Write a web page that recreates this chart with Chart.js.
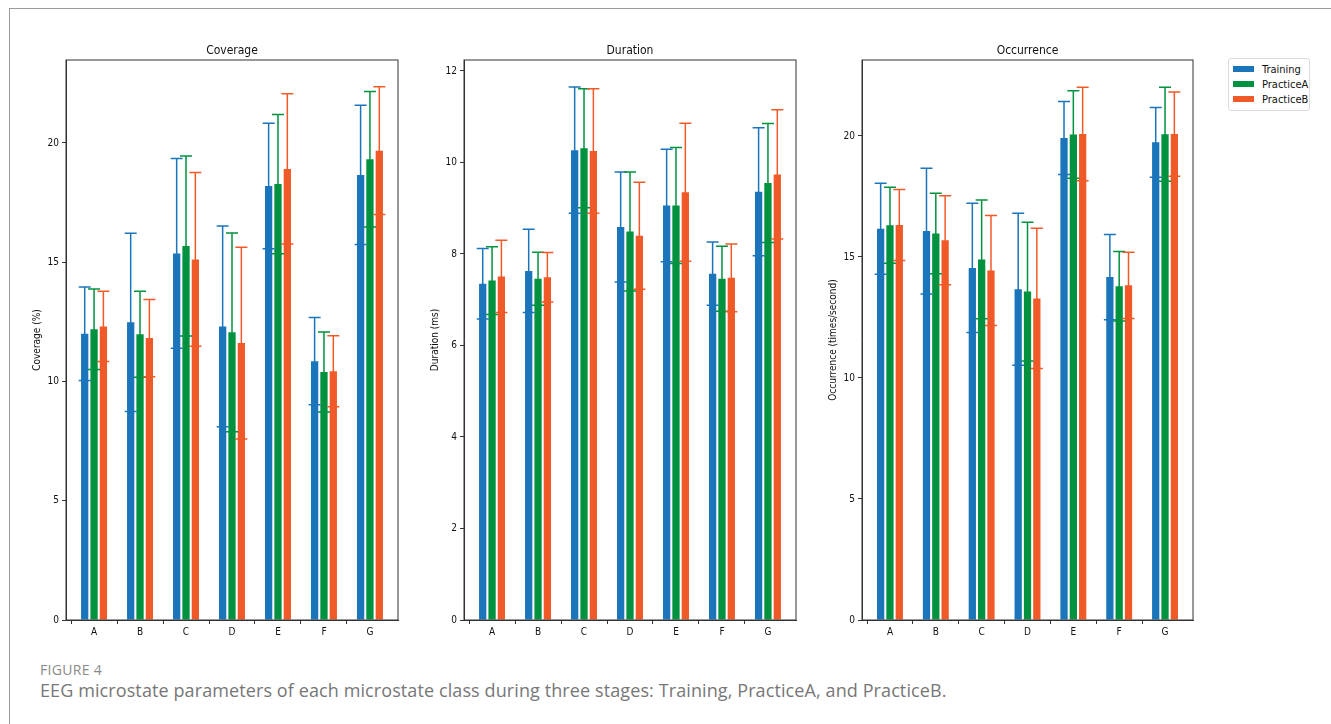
<!DOCTYPE html>
<html>
<head>
<meta charset="utf-8">
<script src="https://cdn.jsdelivr.net/npm/chart.js@4"></script>
<style>
  body{margin:0;background:#fff;width:1331px;height:724px;overflow:hidden;position:relative;font-family:"DejaVu Sans",sans-serif;}
  #frame{position:absolute;left:9px;top:8px;width:1340px;height:740px;border-left:1.5px solid #9a9a9a;border-top:1.5px solid #9a9a9a;}
  .pan{position:absolute;top:30px;}
  #legenda{position:absolute;left:1228px;top:58px;width:80px;height:51px;border:1px solid #dcdcdc;border-radius:3px;background:#fff;}
  .item{position:absolute;left:4px;height:15px;font-size:11px;line-height:15px;color:#111;font-family:"DejaVu Sans Condensed","DejaVu Sans",sans-serif;}
  .item span{display:inline-block;width:21px;height:6px;margin-right:8px;vertical-align:middle;position:relative;top:-1px;}
  #fig{position:absolute;left:40px;top:660px;font-family:"Open Sans",sans-serif;font-size:14px;color:#8a8a8a;letter-spacing:0.3px;}
  #cap{position:absolute;left:40px;top:678px;font-family:"Open Sans",sans-serif;font-size:18px;color:#777;letter-spacing:0.1px;}
</style>
</head>
<body>
<div id="frame"></div>
<canvas id="grafico1" class="pan"></canvas>
<canvas id="grafico2" class="pan"></canvas>
<canvas id="grafico3" class="pan"></canvas>
<div id="legenda"></div>
<div id="fig">FIGURE 4</div>
<div id="cap">EEG microstate parameters of each microstate class during three stages: Training, PracticeA, and PracticeB.</div>
<script>
// microstate classes
var classes=["A","B","C","D","E","F","G"];
var stages=["Training","PracticeA","PracticeB"];
var cores=["#1b75bb","#00923f","#f05a28"];

// Coverage (%) - mean / sd
var cov_training=[12.0,12.48,15.37,12.31,18.2,10.85,18.66];
var cov_training_sd=[1.96,3.74,3.98,4.21,2.63,1.83,2.92];
var cov_practiceA=[12.19,11.98,15.68,12.06,18.28,10.4,19.32];
var cov_practiceA_sd=[1.69,1.8,3.77,4.17,2.92,1.68,2.84];
var cov_practiceB=[12.31,11.82,15.12,11.61,18.91,10.43,19.68];
var cov_practiceB_sd=[1.47,1.62,3.64,4.02,3.15,1.49,2.68];

// Duration (ms)
var dur_training=[7.35,7.63,10.27,8.59,9.06,7.57,9.36];
var dur_training_sd=[0.77,0.91,1.38,1.2,1.23,0.69,1.4];
var dur_practiceA=[7.42,7.46,10.31,8.49,9.06,7.46,9.55];
var dur_practiceA_sd=[0.74,0.58,1.3,1.3,1.27,0.71,1.3];
var dur_practiceB=[7.51,7.49,10.25,8.4,9.35,7.48,9.74];
var dur_practiceB_sd=[0.79,0.54,1.36,1.17,1.51,0.74,1.41];

// Occurrence (times/second)
var occ_training=[16.17,16.07,14.55,13.67,19.92,14.17,19.74];
var occ_training_sd=[1.88,2.6,2.67,3.14,1.51,1.76,1.44];
var occ_practiceA=[16.31,15.97,14.9,13.57,20.06,13.79,20.07];
var occ_practiceA_sd=[1.57,1.66,2.45,2.87,1.81,1.44,1.94];
var occ_practiceB=[16.32,15.69,14.44,13.29,20.08,13.83,20.08];
var occ_practiceB_sd=[1.47,1.84,2.27,2.9,1.93,1.37,1.74];

// y ticks
var cov_ticks=[0,5,10,15,20];
var dur_ticks=[0,2,4,6,8,10,12];
var occ_ticks=[0,5,10,15,20];

var fonte='"DejaVu Sans Condensed","DejaVu Sans",sans-serif';
Chart.defaults.font.family=fonte;
Chart.defaults.color="#111";
var eixoW=35;

// error bars + box + title drawn on top of the bars
var extras={
    id:"extras",
    afterDatasetsDraw(chart){
        var ctx=chart.ctx;
        var y=chart.scales.y;
        ctx.save();
        chart.data.datasets.forEach(function(ds,d){
            var meta=chart.getDatasetMeta(d);
            meta.data.forEach(function(bar,i){
                var m=ds.data[i].y, s=ds.erro[i];
                var top=y.getPixelForValue(m+s), bot=y.getPixelForValue(m-s);
                ctx.strokeStyle=ds.backgroundColor;
                ctx.lineWidth=1.5;
                ctx.beginPath();
                ctx.moveTo(bar.x,bot);ctx.lineTo(bar.x,top);
                ctx.moveTo(bar.x-6,top);ctx.lineTo(bar.x+6,top);
                ctx.moveTo(bar.x-6,bot);ctx.lineTo(bar.x+6,bot);
                ctx.stroke();
            });
        });
        var a=chart.chartArea;
        ctx.strokeStyle="#333";
        ctx.lineWidth=1;
        ctx.strokeRect(a.left,a.top,a.right-a.left,a.bottom-a.top);
        ctx.fillStyle="#111";
        ctx.font="12px "+fonte;
        ctx.textAlign="center";
        ctx.textBaseline="alphabetic";
        ctx.fillText(chart.options.titulo,(a.left+a.right)/2,a.top-6);
        ctx.restore();
    }
};

function pontos(vals){
    return vals.map(function(v,i){return {x:i,y:v};});
}

// only the class positions get a tick mark
function corTick(c){
    return (c.tick && Number.isInteger(c.tick.value)) ? "#333" : "rgba(0,0,0,0)";
}

function grafico(id,left,width,titulo,eixo,ymax,ticks,series,erros){
    var cv=document.getElementById(id);
    cv.style.left=(left-eixoW)+"px";
    cv.style.width=(width+eixoW+5)+"px";
    cv.style.height="620px";
    var dados={
        datasets:series.map(function(s,k){
            return {
                label:stages[k],
                data:pontos(s),
                erro:erros[k],
                backgroundColor:cores[k],
                borderWidth:0,
                barPercentage:0.78,
                categoryPercentage:0.61
            };
        })
    };
    var config={
        type:"bar",
        data:dados,
        plugins:[extras],
        options:{
            titulo:titulo,
            responsive:false,
            animation:false,
            layout:{padding:{top:30,right:5,left:0,bottom:0}},
            plugins:{legend:{display:false},tooltip:{enabled:false}},
            scales:{
                x:{
                    type:"linear",
                    min:-0.61,max:6.61,
                    offset:false,
                    afterBuildTicks:function(sc){sc.ticks=classes.map(function(c,i){return {value:i};});},
                    afterFit:function(sc){sc.height=30;},
                    ticks:{callback:function(v){return classes[v];},font:{size:10},padding:2,maxRotation:0},
                    grid:{drawOnChartArea:false,drawTicks:true,tickLength:4,color:corTick},
                    border:{color:"#333"}
                },
                y:{
                    min:0,max:ymax,
                    afterBuildTicks:function(sc){sc.ticks=ticks.map(function(t){return {value:t};});},
                    afterFit:function(sc){sc.width=eixoW;},
                    ticks:{font:{size:10},padding:3},
                    title:{display:true,text:eixo,font:{size:10},padding:{top:0,bottom:0}},
                    grid:{drawOnChartArea:false,drawTicks:true,tickLength:4,color:"#333"},
                    border:{color:"#333"}
                }
            }
        }
    };
    cv.width=width+eixoW+5;
    cv.height=620;
    return new Chart(cv.getContext("2d"),config);
}

grafico("grafico1",66,332,"Coverage","Coverage (%)",23.48,cov_ticks,
    [cov_training,cov_practiceA,cov_practiceB],[cov_training_sd,cov_practiceA_sd,cov_practiceB_sd]);
grafico("grafico2",464,332,"Duration","Duration (ms)",12.24,dur_ticks,
    [dur_training,dur_practiceA,dur_practiceB],[dur_training_sd,dur_practiceA_sd,dur_practiceB_sd]);
grafico("grafico3",862,331,"Occurrence","Occurrence (times/second)",23.14,occ_ticks,
    [occ_training,occ_practiceA,occ_practiceB],[occ_training_sd,occ_practiceA_sd,occ_practiceB_sd]);

// legend
var leg=document.getElementById("legenda");
stages.forEach(function(s,k){
    var d=document.createElement("div");
    d.className="item";
    d.style.top=(3+k*15)+"px";
    d.innerHTML='<span style="background:'+cores[k]+'"></span>'+s;
    leg.appendChild(d);
});
</script>
</body>
</html>
